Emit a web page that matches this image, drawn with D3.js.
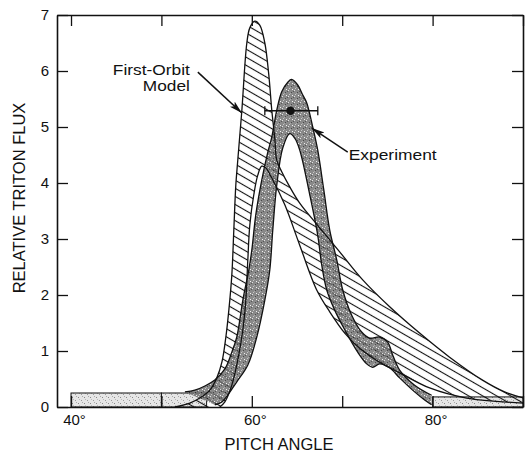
<!DOCTYPE html>
<html><head><meta charset="utf-8">
<script src="https://cdn.jsdelivr.net/npm/d3@7/dist/d3.min.js"></script>
<style>
body{margin:0;background:#fff}
svg{display:block}
text{font-family:"Liberation Sans",Arial,Helvetica,sans-serif;fill:#111}
</style>
</head><body>
<svg id="c" width="525" height="453"></svg>
<script>
// ---------- data ----------
const xTickValues = [40, 50, 60, 70, 80, 90];
const xLabelValues = [40, 60, 80];
const yTickValues = [0, 1, 2, 3, 4, 5, 6, 7];

// First-Orbit Model band: [pitch angle (deg), relative flux]
const modelUpper = [[51.49,0],[53.15,0.07],[54.25,0.16],[55.36,0.30],[56.13,0.52],[56.69,0.80],[57.13,1.25],[57.46,1.73],[57.79,2.36],[58.01,3.16],[58.23,3.96],[58.45,4.41],[58.90,5.30],[59.45,6.50],[59.78,6.77],[60.33,6.89],[60.88,6.82],[61.44,6.50],[61.88,5.93],[62.21,5.30],[62.54,4.80],[62.76,4.41],[63.31,4.20],[64.20,3.93],[65.30,3.64],[67.51,3.20],[69.72,2.77],[72.27,2.27],[75.25,1.79],[78.56,1.32],[81.88,0.89],[85.52,0.48],[87.96,0.27],[90.06,0.16]];
const modelLower = [[56.46,0],[57.02,0.09],[57.79,0.39],[58.45,0.84],[59.01,1.38],[59.34,1.91],[59.56,2.63],[59.78,3.25],[60.22,3.79],[60.66,4.14],[61.10,4.30],[61.55,4.27],[62.21,4.09],[63.65,3.61],[65.30,2.89],[67.18,2.09],[68.62,1.70],[70.28,1.32],[71.93,1.05],[74.14,0.80],[76.35,0.61],[79.67,0.34],[83.76,0.16],[90.06,0.07]];

// Experiment band
const expUpper = [[52.60,0.27],[53.70,0.30],[54.81,0.375],[55.91,0.48],[57.02,0.68],[57.79,0.98],[58.34,1.25],[59.01,1.91],[59.67,2.45],[60.00,2.80],[60.44,3.43],[61.10,4.05],[61.77,4.55],[62.21,4.82],[62.76,5.30],[63.31,5.63],[63.98,5.80],[64.40,5.85],[65.08,5.75],[65.64,5.57],[66.08,5.43],[66.74,5.00],[67.29,4.59],[67.96,3.88],[68.62,3.16],[69.39,2.63],[70.06,2.09],[71.05,1.64],[72.15,1.34],[73.04,1.23],[74.14,1.25],[75.03,1.16],[75.58,0.93],[76.35,0.66],[78.01,0.39],[79.89,0.21]];
const expLower = [[55.91,0.04],[56.69,0.09],[58.34,0.45],[59.56,0.75],[60.55,1.25],[61.44,1.91],[61.99,2.45],[62.32,3.16],[62.76,3.96],[63.43,4.63],[64.20,4.88],[64.75,4.80],[65.30,4.59],[66.41,3.79],[67.29,3.07],[67.73,2.54],[68.29,2.09],[69.17,1.73],[70.28,1.38],[71.71,0.98],[72.71,0.77],[73.37,0.71],[74.14,0.77],[75.25,0.70],[76.35,0.52],[78.01,0.27],[79.12,0.125],[79.89,0.04]];

// Experiment bins at the edges: [from, to, flux]
const expBins = [[40,50,0.25],[50,55,0.25],[80,90,0.18]];

// Experimental point with horizontal error bar
const expPoint = {angle:64.28, flux:5.29, lo:61.44, hi:67.30};

// Annotations (data coordinates)
const modelLabel = {lines:["First-Orbit","Model"], x:53.15, y:[5.93,5.64], lens:[77,47]};
const modelArrow = {from:[54.03,5.98], to:[58.90,5.25]};
const expLabel = {text:"Experiment", x:70.72, y:4.41, len:88};
const expArrow = {from:[70.61,4.55], to:[66.63,4.98]};

// ---------- drawing ----------
const svg = d3.select("#c");
const L = 57, R = 523, T = 15, B = 407;
const x = d3.scaleLinear().domain([38.45, 90]).range([L, R]);
const y = d3.scaleLinear().domain([0, 7]).range([B, T]);

const defs = svg.append("defs");
// hatch pattern
const hp = defs.append("pattern").attr("id","hatch").attr("patternUnits","userSpaceOnUse")
  .attr("width",7).attr("height",7).attr("patternTransform","rotate(30)");
hp.append("line").attr("x1",0).attr("y1",3.5).attr("x2",7).attr("y2",3.5)
  .attr("stroke","#111").attr("stroke-width",1.1);
// dark stipple
const sp = defs.append("pattern").attr("id","stip").attr("patternUnits","userSpaceOnUse")
  .attr("width",6).attr("height",6);
sp.append("rect").attr("width",6).attr("height",6).attr("fill","#6f6f6f");
[[0,0,"#ddd"],[3,2,"#222"],[1,4,"#bbb"],[4,5,"#eee"],[5,1,"#333"],[2,3,"#999"]].forEach(d=>{
  sp.append("rect").attr("x",d[0]).attr("y",d[1]).attr("width",1).attr("height",1).attr("fill",d[2]);
});
// light stipple
const lp = defs.append("pattern").attr("id","lstip").attr("patternUnits","userSpaceOnUse")
  .attr("width",6).attr("height",6);
lp.append("rect").attr("width",6).attr("height",6).attr("fill","#e6e6e6");
[[0,1,"#888"],[3,4,"#999"],[4,0,"#aaa"],[1,3,"#bbb"]].forEach(d=>{
  lp.append("rect").attr("x",d[0]).attr("y",d[1]).attr("width",1).attr("height",1).attr("fill",d[2]);
});
// arrowhead
defs.append("marker").attr("id","arr").attr("markerUnits","userSpaceOnUse")
  .attr("markerWidth",14).attr("markerHeight",8).attr("refX",13).attr("refY",3.5)
  .attr("orient","auto")
  .append("path").attr("d","M0,0 L13,3.5 L0,7 L3,3.5 Z").attr("fill","#111");
defs.append("clipPath").attr("id","plot").append("rect")
  .attr("x",L).attr("y",T).attr("width",R-L).attr("height",B-T);

const g = svg.append("g").attr("clip-path","url(#plot)");

// bins
g.selectAll("rect.bin").data(expBins).join("rect").attr("class","bin")
  .attr("x",d=>x(d[0])).attr("width",d=>x(d[1])-x(d[0]))
  .attr("y",d=>y(d[2])).attr("height",d=>y(0)-y(d[2]))
  .attr("fill","url(#lstip)").attr("stroke","#111").attr("stroke-width",1);

const curve = d3.line().x(d=>x(d[0])).y(d=>y(d[1])).curve(d3.curveCatmullRom.alpha(0.5));
function bandPath(up, lo){
  const a = curve(up);
  const b = curve(lo.slice().reverse());
  return a + "L" + b.substring(1) + "Z";
}

// model hatched band
g.append("path").attr("d",bandPath(modelUpper, modelLower))
  .attr("fill","url(#hatch)").attr("stroke","none");
// experiment band
g.append("path").attr("d",bandPath(expUpper, expLower))
  .attr("fill","url(#stip)").attr("fill-opacity",0.82).attr("stroke","none");
// outlines
[modelUpper, modelLower, expUpper, expLower].forEach(c=>{
  g.append("path").attr("d",curve(c)).attr("fill","none")
    .attr("stroke","#111").attr("stroke-width",1.3);
});

// axes (inward ticks)
const fmt = d => xLabelValues.includes(d) ? d + "°" : "";
const ax = svg.append("g").attr("transform",`translate(0,${B})`)
  .call(d3.axisBottom(x).tickValues(xTickValues).tickSizeInner(-11).tickSizeOuter(0).tickPadding(7).tickFormat(fmt));
ax.selectAll("text").attr("dx","3").style("font-size","15px");
svg.append("g").attr("transform",`translate(0,${T})`)
  .call(d3.axisTop(x).tickValues(xTickValues).tickSizeInner(-11).tickSizeOuter(0).tickFormat(""));
const ay = svg.append("g").attr("transform",`translate(${L},0)`)
  .call(d3.axisLeft(y).tickValues(yTickValues).tickSizeInner(-11).tickSizeOuter(0).tickPadding(8).tickFormat(d3.format("d")));
ay.selectAll("text").style("font-size","15px");
svg.append("g").attr("transform",`translate(${R},0)`)
  .call(d3.axisRight(y).tickValues(yTickValues).tickSizeInner(-11).tickSizeOuter(0).tickFormat(""));
svg.selectAll(".domain").attr("stroke","#111").attr("stroke-width",1.6);
svg.selectAll(".tick line").attr("stroke","#111").attr("stroke-width",1.3);
svg.selectAll(".tick text").attr("fill","#111").style("font-family",'"Liberation Sans",Arial,sans-serif');

// error bar + point
const eb = svg.append("g").attr("stroke","#111").attr("stroke-width",1.3);
eb.append("line").attr("x1",x(expPoint.lo)).attr("x2",x(expPoint.hi))
  .attr("y1",y(expPoint.flux)).attr("y2",y(expPoint.flux));
[expPoint.lo, expPoint.hi].forEach(v=>{
  eb.append("line").attr("x1",x(v)).attr("x2",x(v))
    .attr("y1",y(expPoint.flux)-4.5).attr("y2",y(expPoint.flux)+4.5);
});
svg.append("circle").attr("cx",x(expPoint.angle)).attr("cy",y(expPoint.flux)).attr("r",4.2).attr("fill","#111");

// annotations
modelLabel.lines.forEach((t,i)=>{
  svg.append("text").attr("x",x(modelLabel.x)).attr("y",y(modelLabel.y[i]))
    .attr("text-anchor","end").style("font-size","14px")
    .attr("textLength",modelLabel.lens[i]).attr("lengthAdjust","spacingAndGlyphs").text(t);
});
svg.append("text").attr("x",x(expLabel.x)).attr("y",y(expLabel.y))
  .style("font-size","14.5px").attr("textLength",expLabel.len).attr("lengthAdjust","spacingAndGlyphs")
  .text(expLabel.text);
[modelArrow, expArrow].forEach(a=>{
  svg.append("line").attr("x1",x(a.from[0])).attr("y1",y(a.from[1]))
    .attr("x2",x(a.to[0])).attr("y2",y(a.to[1]))
    .attr("stroke","#111").attr("stroke-width",1.5).attr("marker-end","url(#arr)");
});

// axis titles
svg.append("text").attr("x",279).attr("y",450).attr("text-anchor","middle")
  .style("font-size","16.5px").text("PITCH ANGLE");
svg.append("text").attr("transform","translate(25,198) rotate(-90)").attr("text-anchor","middle")
  .style("font-size","16.5px").text("RELATIVE TRITON FLUX");
</script>
</body></html>
